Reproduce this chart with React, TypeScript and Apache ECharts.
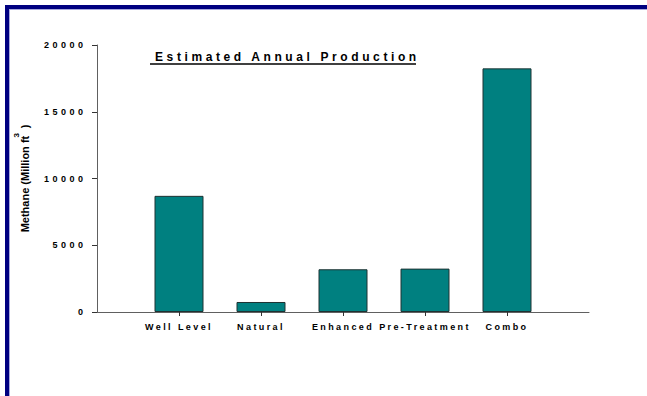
import React, { useEffect, useRef } from "react";
import * as echarts from "echarts";

const TITLE = "Estimated Annual Production";
const CATEGORIES = ["", "Well Level", "Natural", "Enhanced", "Pre-Treatment", "Combo", ""];
const VALUES: (number | null)[] = [null, 8700, 750, 3200, 3250, 18250, null];
const Y_MIN = 0;
const Y_MAX = 20000;
const Y_STEP = 5000;
const FONT = "'Liberation Sans', Arial, sans-serif";
const Y_SPACING = 3.5;

export default function App() {
  const ref = useRef<HTMLDivElement>(null);
  useEffect(() => {
    if (!ref.current) return;
    const chart = echarts.init(ref.current, undefined, { renderer: "svg" });
    chart.setOption({
      animation: false,
      backgroundColor: "#ffffff",
      title: {
        text: TITLE,
        left: 150,
        top: 46,
        textStyle: { fontFamily: FONT, fontSize: 12, fontWeight: "bold", color: "#000" },
      },
      graphic: [
        { type: "rect", shape: { x: 5, y: 5, width: 642, height: 4 }, style: { fill: "#000080" }, silent: true },
        { type: "rect", shape: { x: 5, y: 5, width: 4, height: 391 }, style: { fill: "#000080" }, silent: true },
        { type: "rect", shape: { x: 9, y: 9, width: 638, height: 1 }, style: { fill: "#a8a8dc" }, silent: true },
        { type: "rect", shape: { x: 9, y: 9, width: 1, height: 387 }, style: { fill: "#a8a8dc" }, silent: true },
        { type: "line", shape: { x1: 150, y1: 64, x2: 416, y2: 64 }, style: { stroke: "#000", lineWidth: 1.5 }, silent: true },
      ],
      grid: { left: 97, right: 58, top: 45, bottom: 84 },
      xAxis: {
        type: "category",
        data: CATEGORIES,
        boundaryGap: false,
        axisLine: { lineStyle: { color: "#606060", width: 1 } },
        axisTick: {
          length: 4,
          interval: (i: number) => i > 0 && i < CATEGORIES.length - 1,
          lineStyle: { color: "#333" },
        },
        axisLabel: {
          interval: 0,
          margin: 10,
          fontFamily: FONT,
          fontSize: 9,
          fontWeight: "bold",
          color: "#000",
        },
        splitLine: { show: false },
      },
      yAxis: {
        type: "value",
        min: Y_MIN,
        max: Y_MAX,
        interval: Y_STEP,
        name: "{a|Methane (Million ft}{b|3}{a| )}",
        nameLocation: "middle",
        nameGap: 59,
        nameRotate: 90,
        nameTextStyle: {
          rich: {
            a: { fontFamily: FONT, fontSize: 11, fontWeight: "bold", color: "#000", lineHeight: 26 },
            b: { fontFamily: FONT, fontSize: 8, fontWeight: "bold", color: "#000", lineHeight: 9, verticalAlign: "top" },
          },
        },
        axisLine: { show: true, lineStyle: { color: "#606060", width: 1 } },
        axisTick: { show: true, length: 5, lineStyle: { color: "#333" } },
        axisLabel: {
          margin: 14 - Y_SPACING,
          formatter: (v: number) => String(v),
          fontFamily: FONT,
          fontSize: 9,
          fontWeight: "bold",
          color: "#000",
        },
        splitLine: { show: false },
      },
      series: [
        {
          type: "bar",
          data: VALUES,
          barWidth: 49,
          itemStyle: { color: "#008080", borderColor: "#1e3232", borderWidth: 1 },
        },
      ],
    });
    const el = ref.current;
    el.querySelectorAll("text").forEach((t) => {
      const s = t.textContent || "";
      if (s === TITLE) t.setAttribute("letter-spacing", "3.6");
      else if (CATEGORIES.includes(s) && s !== "") t.setAttribute("letter-spacing", "2.4");
      else if (/^\d+$/.test(s)) t.setAttribute("letter-spacing", String(Y_SPACING));
    });
    return () => chart.dispose();
  }, []);
  return <div ref={ref} style={{ position: "fixed", left: 0, top: 0, width: 647, height: 396 }} />;
}
